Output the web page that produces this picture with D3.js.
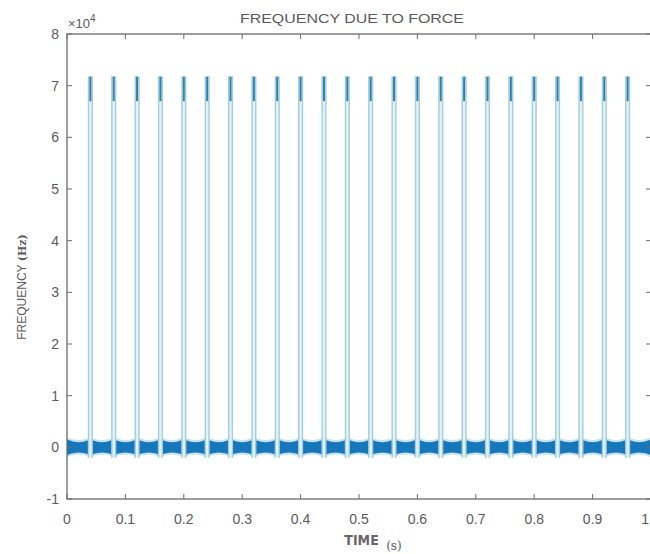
<!DOCTYPE html>
<html>
<head>
<meta charset="utf-8">
<script src="https://cdn.jsdelivr.net/npm/d3@7"></script>
<style>
  body { margin: 0; background: #fff; }
  svg { display: block; }
</style>
</head>
<body>
<svg></svg>
<script>
// values (frequency in Hz, time in s)
const xTicks = [0, 0.1, 0.2, 0.3, 0.4, 0.5, 0.6, 0.7, 0.8, 0.9, 1];
const yTicks = [-1, 0, 1, 2, 3, 4, 5, 6, 7, 8];   // x 10^4
const spikeTimes = [0.04, 0.08, 0.12, 0.16, 0.20, 0.24, 0.28, 0.32, 0.36, 0.40, 0.44, 0.48,
                    0.52, 0.56, 0.60, 0.64, 0.68, 0.72, 0.76, 0.80, 0.84, 0.88, 0.92, 0.96];
const spikePeak = 71700;
const spikeCoreLow = 67000;
const spikeDip = -2000;
const spikeHalfWidth = 0.0032;
// baseline ripple envelope within one period (phase in s, amplitude in Hz)
const envPhase = [0, 0.004, 0.012, 0.02, 0.028, 0.036, 0.04];
const envAmp   = [1500, 1350, 1100, 1000, 1100, 1350, 1500];
const haloExtra = 400;

const width = 650, height = 554;
const margins = {top: 34, left: 67, right: 651, bottom: 499};

const svg = d3.select("svg")
    .attr("width", width)
    .attr("height", height);

const x = d3.scaleLinear().domain([0, 1]).range([margins.left, margins.right]);
const y = d3.scaleLinear().domain([-1, 8]).range([margins.bottom, margins.top]);
const yv = v => y(v / 1e4);

svg.append("defs").append("clipPath").attr("id", "clip")
  .append("rect")
    .attr("x", margins.left).attr("y", margins.top)
    .attr("width", margins.right - margins.left)
    .attr("height", margins.bottom - margins.top);

const plot = svg.append("g").attr("clip-path", "url(#clip)");

// baseline ripple band, built period by period
const starts = [0].concat(spikeTimes);
const env = [];
starts.forEach(s => {
    envPhase.forEach((p, i) => {
        if (s + p <= 1.0001) env.push({t: s + p, a: envAmp[i]});
    });
});

const area = d3.area()
    .x(d => x(d.t))
    .curve(d3.curveMonotoneX);

plot.append("path")
    .datum(env)
    .attr("d", area.y0(d => yv(-d.a - haloExtra)).y1(d => yv(d.a + haloExtra)))
    .attr("fill", "#c6e3f3");

plot.append("path")
    .datum(env)
    .attr("d", area.y0(d => yv(-d.a)).y1(d => yv(d.a)))
    .attr("fill", "#1777bb");

// spikes
const line = d3.line().x(d => x(d[0])).y(d => yv(d[1]));

plot.append("g")
  .selectAll("path")
  .data(spikeTimes)
  .join("path")
    .attr("d", t => line([[t - spikeHalfWidth, spikeDip], [t - spikeHalfWidth, spikePeak],
                          [t + spikeHalfWidth, spikePeak], [t + spikeHalfWidth, spikeDip]]))
    .attr("fill", "#e4f2f7")
    .attr("stroke", "#a2cddd")
    .attr("stroke-width", 1.4);

plot.append("g")
  .selectAll("path")
  .data(spikeTimes)
  .join("path")
    .attr("d", t => line([[t, spikePeak], [t, spikeCoreLow]]))
    .attr("stroke", "#2f80ad")
    .attr("stroke-width", 2);

// axes box
const axisColor = "#6a6a6a";
const textColor = "#5a5a5a";
const box = svg.append("g");

box.append("rect")
    .attr("x", margins.left).attr("y", margins.top)
    .attr("width", margins.right - margins.left)
    .attr("height", margins.bottom - margins.top)
    .attr("fill", "none")
    .attr("stroke", axisColor)
    .attr("stroke-width", 1.3);

const tickLen = 5;
box.append("g").selectAll("line")
  .data(xTicks)
  .join("line")
    .attr("x1", d => x(d)).attr("x2", d => x(d))
    .attr("y1", margins.bottom).attr("y2", margins.bottom - tickLen)
    .attr("stroke", axisColor);
box.append("g").selectAll("line")
  .data(xTicks)
  .join("line")
    .attr("x1", d => x(d)).attr("x2", d => x(d))
    .attr("y1", margins.top).attr("y2", margins.top + tickLen)
    .attr("stroke", axisColor);
box.append("g").selectAll("line")
  .data(yTicks)
  .join("line")
    .attr("x1", margins.left).attr("x2", margins.left + tickLen)
    .attr("y1", d => y(d)).attr("y2", d => y(d))
    .attr("stroke", axisColor);
box.append("g").selectAll("line")
  .data(yTicks)
  .join("line")
    .attr("x1", margins.right).attr("x2", margins.right - tickLen)
    .attr("y1", d => y(d)).attr("y2", d => y(d))
    .attr("stroke", axisColor);

const labels = svg.append("g")
    .attr("font-family", "Liberation Sans, Arial, sans-serif")
    .attr("fill", textColor);

// the last label would fall off the window edge, so it is pinned inside
labels.append("g").selectAll("text")
  .data(xTicks)
  .join("text")
    .attr("x", d => Math.min(x(d), width - 1))
    .attr("y", 524)
    .attr("text-anchor", d => x(d) + 4 > width ? "end" : "middle")
    .attr("font-size", 14)
    .text(d => d3.format("~g")(d));

labels.append("g").selectAll("text")
  .data(yTicks)
  .join("text")
    .attr("x", margins.left - 8)
    .attr("y", d => y(d) + 5)
    .attr("text-anchor", "end")
    .attr("font-size", 14)
    .text(d => d);

// exponent
const expo = labels.append("text")
    .attr("x", 68).attr("y", 28)
    .attr("font-size", 13);
expo.append("tspan").text("\u00d710");
expo.append("tspan").attr("dy", -6).attr("font-size", 10).text("4");

// title
labels.append("text")
    .attr("x", 352).attr("y", 23)
    .attr("text-anchor", "middle")
    .attr("font-size", 13)
    .attr("textLength", 224)
    .attr("lengthAdjust", "spacingAndGlyphs")
    .text("FREQUENCY DUE TO FORCE");

// axis titles
const yl = labels.append("text")
    .attr("transform", "translate(26,287) rotate(-90)")
    .attr("text-anchor", "middle")
    .attr("font-size", 12);
yl.append("tspan").text("FREQUENCY ");
yl.append("tspan").attr("font-family", "DejaVu Serif, serif").attr("font-weight", "bold").attr("font-size", 11).text(" (Hz)");

const xl = labels.append("text")
    .attr("x", 373).attr("y", 545)
    .attr("text-anchor", "middle")
    .attr("font-size", 14);
xl.append("tspan").attr("font-weight", "bold").attr("font-family", "DejaVu Sans Condensed, sans-serif").attr("fill", "#666").text("TIME ");
xl.append("tspan").attr("dx", 3).attr("dy", 5).attr("font-family", "DejaVu Serif, serif").attr("font-size", 12).text("(s)");
</script>
</body>
</html>
